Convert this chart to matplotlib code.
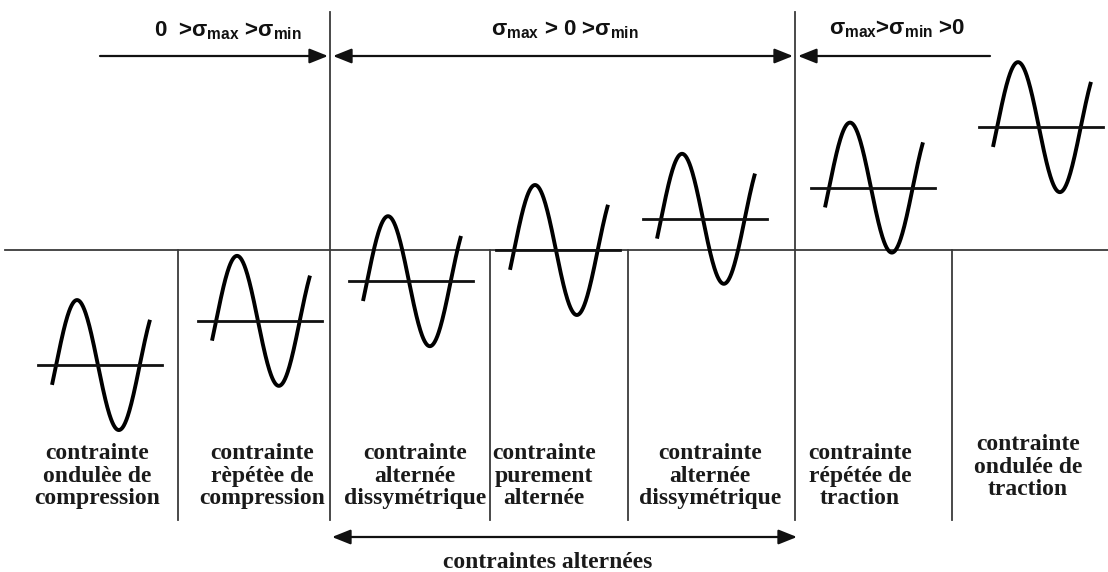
import numpy as np
import matplotlib
matplotlib.use("Agg")
import matplotlib.pyplot as plt

# ---------------- data ----------------
categories = [
    "contrainte\nondulèe de\ncompression",
    "contrainte\nrèpétèe de\ncompression",
    "contrainte\nalternée\ndissymétrique",
    "contrainte\npurement\nalternée",
    "contrainte\nalternée\ndissymétrique",
    "contrainte\nrépétée de\ntraction",
    "contrainte\nondulée de\ntraction",
]
mean_stress = [-1.77, -1.09, -0.48, 0.0, 0.48, 0.96, 1.89]   # sigma_m
amp_stress = [1.0, 1.0, 1.0, 1.0, 1.0, 1.0, 1.0]             # sigma_a
regimes = [
    r"0  >$\sigma_{max}$ >$\sigma_{min}$",
    r"$\sigma_{max}$ > 0 >$\sigma_{min}$",
    r"$\sigma_{max}$>$\sigma_{min}$ >0",
]
group_label = "contraintes alternées"

# ---------------- layout (pixels) ----------------
W, H = 1108, 572
BASE_PX, UNIT_PX = 250, 65
wave_x0 = [52, 212, 363, 510, 657, 825, 993]
wave_w = 98
label_x = [97, 262, 415, 544, 710, 860, 1028]
label_y = [443, 443, 443, 443, 443, 443, 434]
regime_x = [228, 565, 897]
regime_y = [31, 30, 29]


def sy(px):
    """pixel row -> stress units"""
    return (BASE_PX - px) / UNIT_PX


plt.rcParams["mathtext.fontset"] = "custom"
plt.rcParams["mathtext.rm"] = "Liberation Sans:bold"
plt.rcParams["mathtext.it"] = "Liberation Sans:bold"
plt.rcParams["mathtext.bf"] = "Liberation Sans:bold"

fig = plt.figure(figsize=(W / 100, H / 100), dpi=100)
ax = fig.add_axes([0, 0, 1, 1])
ax.set_xlim(0, W)
ax.set_ylim(sy(H), sy(0))
ax.axis("off")

gray = "#3a3a3a"
# baseline (sigma = 0)
ax.plot([5, W], [0, 0], color=gray, lw=1.3)
# vertical separators
for x, y0, y1 in [(178, 250, 520), (330, 12, 520), (490, 250, 520),
                  (628, 250, 520), (795, 12, 520), (952, 250, 520)]:
    ax.plot([x, x], [sy(y0), sy(y1)], color=gray, lw=1.3)

# waves
t0, t1 = -0.31, 2 * np.pi + 0.77
t = np.linspace(t0, t1, 300)
for x0, m, a in zip(wave_x0, mean_stress, amp_stress):
    xs = x0 + (t - t0) / (t1 - t0) * wave_w
    ax.plot(xs, m + a * np.sin(t), color="black", lw=2.8,
            solid_capstyle="butt", solid_joinstyle="round")
    ax.plot([x0 - 14, x0 + wave_w + 12], [m, m], color="#111111", lw=2.0)

# arrows
def arrow(xa, xb, ypx, style):
    ax.annotate("", xy=(xb, sy(ypx)), xytext=(xa, sy(ypx)),
                arrowprops=dict(arrowstyle=style, color="#111111", lw=1.6,
                                shrinkA=0, shrinkB=0, mutation_scale=16))

arrow(100, 328, 56, "-|>,head_length=0.7,head_width=0.28")
arrow(333, 793, 56, "<|-|>,head_length=0.7,head_width=0.28")
arrow(990, 798, 56, "-|>,head_length=0.7,head_width=0.28")
arrow(332, 797, 537, "<|-|>,head_length=0.7,head_width=0.28")

# header regime labels
for txt, x, y in zip(regimes, regime_x, regime_y):
    ax.text(x, sy(y), txt, ha="center", va="center", fontsize=16,
            family="Liberation Sans", weight="bold", color="#111111")

# category labels
for txt, x, y in zip(categories, label_x, label_y):
    ax.text(x, sy(y), txt, ha="center", va="top", fontsize=17,
            family="Liberation Serif", weight="bold", color="#1a1a1a",
            linespacing=1.1, multialignment="center")

ax.text(548, sy(562), group_label, ha="center", va="center", fontsize=17,
        family="Liberation Serif", weight="bold", color="#1a1a1a")

fig.savefig("out.png", dpi=100, facecolor="white")
